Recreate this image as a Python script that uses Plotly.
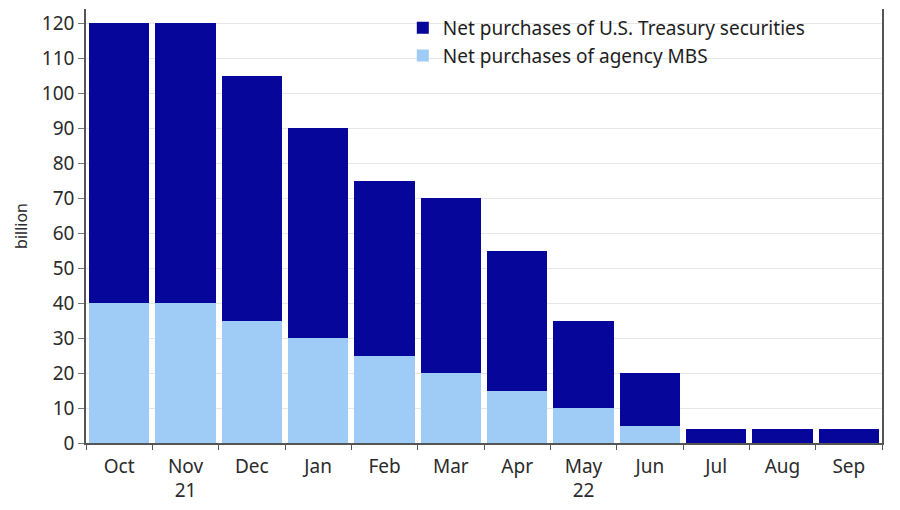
import plotly.graph_objects as go

MONTHS = ["Oct", "Nov<br>21", "Dec", "Jan", "Feb", "Mar", "Apr",
          "May<br>22", "Jun", "Jul", "Aug", "Sep"]
MBS = [40, 40, 35, 30, 25, 20, 15, 10, 5, 0, 0, 0]
TREASURY = [80, 80, 70, 60, 50, 50, 40, 25, 15, 4, 4, 4]

DARK = "#06069a"
LIGHT = "#9fccf6"

fig = go.Figure()
fig.add_trace(go.Bar(x=MONTHS, y=MBS, name="Net purchases of agency MBS",
                     marker=dict(color=LIGHT, line=dict(width=0))))
fig.add_trace(go.Bar(x=MONTHS, y=TREASURY, name="Net purchases of U.S. Treasury securities",
                     marker=dict(color=DARK, line=dict(width=0))))

# page body has an 8px margin, so the figure is sized to fit inside the window
fig.update_layout(
    width=884, height=494,
    barmode="stack",
    bargap=0.09,
    paper_bgcolor="white",
    plot_bgcolor="white",
    font=dict(family="Noto Sans, Open Sans, sans-serif", color="#2b2b2b", size=19),
    margin=dict(l=78, r=10, t=1, b=59),
    legend=dict(
        x=0.398, y=1.0, xanchor="left", yanchor="top",
        traceorder="reversed",
        font=dict(size=19, color="#1e1e1e"),
        bgcolor="rgba(0,0,0,0)",
        itemwidth=30,
        tracegroupgap=0,
    ),
    showlegend=True,
)

fig.update_xaxes(
    automargin=False,
    showline=True, linecolor="#555555", linewidth=1.5,
    ticks="outside", tickson="boundaries", ticklen=5, tickcolor="#555555",
    ticklabelstandoff=5,
    showgrid=False,
)
fig.update_yaxes(
    automargin=False,
    range=[0, 124],
    tickvals=list(range(0, 121, 10)),
    showline=True, linecolor="#555555", linewidth=1.5, mirror=True,
    ticks="outside", ticklen=6, tickcolor="#777777",
    showgrid=True, gridcolor="#e6e6e6", gridwidth=1,
    zeroline=False,
    title=dict(text="billion", font=dict(size=16, color="#2b2b2b"), standoff=10),
)

fig.write_html("out.html")
